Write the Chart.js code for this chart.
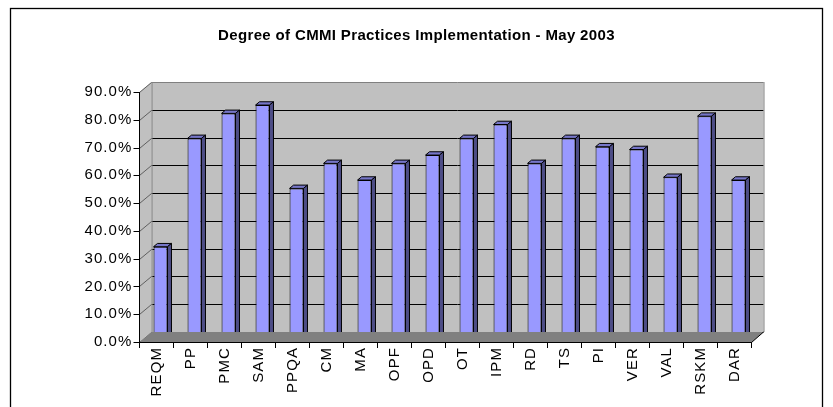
<!DOCTYPE html>
<html>
<head>
<meta charset="utf-8">
<title>Degree of CMMI Practices Implementation - May 2003</title>
<script src="https://cdn.jsdelivr.net/npm/chart.js@4.4.0/dist/chart.umd.min.js"></script>
<style>
    html, body { margin: 0; padding: 0; background: #ffffff; }
    canvas { display: block; }
</style>
</head>
<body>
<canvas id="myChart" width="833" height="407"></canvas>
<script>
// Áreas de processo (categorias)
var processAreas = ["REQM", "PP", "PMC", "SAM", "PPQA", "CM", "MA", "OPF", "OPD",
                    "OT", "IPM", "RD", "TS", "PI", "VER", "VAL", "RSKM", "DAR"];

// Grau de implementação (%)
var implementation = [33, 72, 81, 84, 54, 63, 57, 63, 66,
                      72, 77, 63, 72, 69, 68, 58, 80, 57];

// Eixo Y
var yTicks = [0, 10, 20, 30, 40, 50, 60, 70, 80, 90];

var chartTitle = "Degree of CMMI Practices Implementation - May 2003";

var fontFamily = "'Liberation Sans', Arial, sans-serif";

// deslocamento 3D: parede do fundo e barras
var wallDx = 12, wallDy = -10;
var barShiftX = 4, barShiftY = -3.6;
var barDepthX = 4, barDepthY = -3.3;

var ctx = document.getElementById("myChart").getContext("2d");

var threeD = {
    id: "threeD",
    beforeDraw: function(chart) {
        var c = chart.ctx;
        c.save();
        c.fillStyle = "#ffffff";
        c.fillRect(0, 0, chart.width, chart.height);
        // moldura
        c.strokeStyle = "#000000";
        c.lineWidth = 1.3;
        c.strokeRect(10.5, 8.5, 812, 420);
        // título (centrado na página, texto um pouco mais largo como no Excel)
        c.fillStyle = "#000000";
        c.font = "bold 15px " + fontFamily;
        c.textAlign = "center";
        c.textBaseline = "middle";
        c.letterSpacing = "0.35px";
        c.fillText(chartTitle, 416.5, 36);
        c.restore();
    },
    beforeDatasetsDraw: function(chart) {
        var c = chart.ctx;
        var area = chart.chartArea;
        var y = chart.scales.y;
        var L = area.left, R = area.right, T = area.top, B = area.bottom;

        c.save();
        // parede lateral
        c.fillStyle = "#c0c0c0";
        c.beginPath();
        c.moveTo(L, T); c.lineTo(L + wallDx, T + wallDy);
        c.lineTo(L + wallDx, B + wallDy); c.lineTo(L, B);
        c.closePath(); c.fill();
        // parede do fundo
        c.fillRect(L + wallDx, T + wallDy, R - L, B - T);

        // linhas de grade
        c.lineWidth = 1;
        yTicks.forEach(function(v) {
            var py = Math.round(y.getPixelForValue(v)) + 0.5;
            c.strokeStyle = v === yTicks[yTicks.length - 1] ? "#808080" : "#000000";
            c.beginPath();
            c.moveTo(L + wallDx, py + wallDy);
            c.lineTo(R + wallDx, py + wallDy);
            c.stroke();
            c.strokeStyle = "#606060";
            c.beginPath();
            c.moveTo(L, py);
            c.lineTo(L + wallDx, py + wallDy);
            c.stroke();
        });
        // bordas das paredes
        c.strokeStyle = "#808080";
        c.beginPath();
        c.moveTo(L + wallDx + 0.5, T + wallDy);
        c.lineTo(L + wallDx + 0.5, B + wallDy);
        c.moveTo(R + wallDx + 0.5, T + wallDy);
        c.lineTo(R + wallDx + 0.5, B + wallDy);
        c.stroke();
        c.restore();

        // barras ficam no meio da profundidade
        c.save();
        c.translate(barShiftX, barShiftY);
    },
    afterDatasetsDraw: function(chart) {
        var c = chart.ctx;
        var meta = chart.getDatasetMeta(0);
        meta.data.forEach(function(bar) {
            var p = bar.getProps(["x", "y", "base", "width"], true);
            var x0 = p.x - p.width / 2, x1 = p.x + p.width / 2;
            var top = p.y, bot = p.base;
            c.lineWidth = 1;
            c.strokeStyle = "#000000";
            // face de cima
            c.fillStyle = "#7676c8";
            c.beginPath();
            c.moveTo(x0, top); c.lineTo(x1, top);
            c.lineTo(x1 + barDepthX, top + barDepthY);
            c.lineTo(x0 + barDepthX, top + barDepthY);
            c.closePath(); c.fill(); c.stroke();
            // face lateral
            c.fillStyle = "#4d4d86";
            c.beginPath();
            c.moveTo(x1, top); c.lineTo(x1 + barDepthX, top + barDepthY);
            c.lineTo(x1 + barDepthX, bot + barDepthY);
            c.lineTo(x1, bot);
            c.closePath(); c.fill(); c.stroke();
        });
        c.restore();

        var area = chart.chartArea;
        var y = chart.scales.y;
        var L = area.left, R = area.right, T = area.top, B = area.bottom;
        c.save();
        // piso por cima da base das barras
        c.fillStyle = "#808080";
        c.beginPath();
        c.moveTo(L, B + 0.5); c.lineTo(R, B + 0.5);
        c.lineTo(R + wallDx, B + wallDy); c.lineTo(L + wallDx, B + wallDy);
        c.closePath(); c.fill();

        c.strokeStyle = "#000000";
        c.lineWidth = 1;
        c.beginPath();
        // eixo frontal
        c.moveTo(L, T); c.lineTo(L, B + 0.5);
        c.lineTo(R, B + 0.5);
        c.lineTo(R + wallDx, B + wallDy);
        c.stroke();
        // marcas do eixo Y
        c.beginPath();
        yTicks.forEach(function(v) {
            var py = Math.round(y.getPixelForValue(v)) + 0.5;
            c.moveTo(L - 6, py); c.lineTo(L, py);
        });
        // marcas do eixo X
        var step = (R - L) / processAreas.length;
        for (var i = 0; i <= processAreas.length; i++) {
            var px = Math.round(L + i * step) - 0.5;
            c.moveTo(px, B); c.lineTo(px, B + 6);
        }
        c.stroke();
        c.restore();

        // rótulos dos eixos (z: 1) saem depois daqui, com letras mais espaçadas
        c.letterSpacing = "1.1px";
    }
};

var myChart = new Chart(ctx, {
    type: "bar",
    data: {
        labels: processAreas,
        datasets: [{
            label: "Implementation",
            data: implementation,
            backgroundColor: "#9999ff",
            borderColor: "#000000",
            borderWidth: 1,
            borderSkipped: false,
            barPercentage: 0.41,
            categoryPercentage: 1
        }]
    },
    options: {
        responsive: false,
        animation: false,
        devicePixelRatio: 1,
        layout: { padding: { left: 10, right: 81.5, top: 92, bottom: 0 } },
        plugins: {
            legend: { display: false },
            tooltip: { enabled: false },
            title: { display: false }
        },
        scales: {
            y: {
                min: 0,
                max: 90,
                afterFit: function(scale) { scale.width = 129.5; },
                border: { display: false },
                grid: { display: false, drawTicks: false },
                ticks: {
                    z: 1,
                    stepSize: 10,
                    padding: 7,
                    color: "#000000",
                    font: { family: fontFamily, size: 15 },
                    callback: function(v) { return v.toFixed(1) + "%"; }
                }
            },
            x: {
                afterFit: function(scale) { scale.height = 65; },
                border: { display: false },
                grid: { display: false, drawTicks: false },
                ticks: {
                    z: 1,
                    autoSkip: false,
                    maxRotation: 90,
                    minRotation: 90,
                    padding: 5,
                    color: "#000000",
                    font: { family: fontFamily, size: 15 }
                }
            }
        }
    },
    plugins: [threeD]
});
</script>
</body>
</html>
